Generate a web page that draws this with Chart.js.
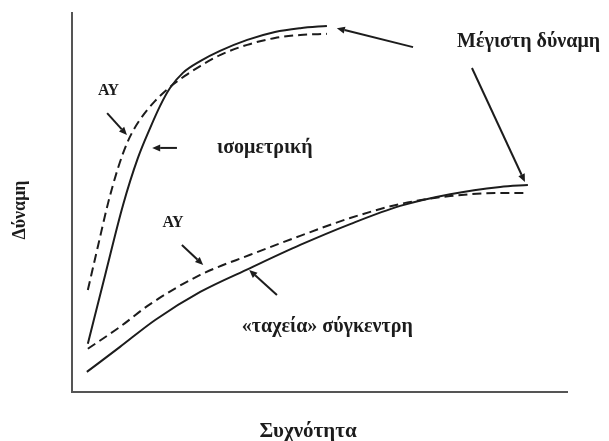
<!DOCTYPE html>
<html>
<head>
<meta charset="utf-8">
<script src="https://cdn.jsdelivr.net/npm/chart.js@4/dist/chart.umd.min.js"></script>
<style>
html,body{margin:0;padding:0;background:#fff;}
#wrap{width:609px;height:441px;position:relative;}
</style>
</head>
<body>
<div id="wrap"><canvas id="c" width="609" height="441"></canvas></div>
<script>
// Frequency (x) values and force (y) values (0-100 scale)
const isoSolidX = [3.2, 6.7, 10.3, 13.3, 15.8, 17.8, 19.8, 22.4, 25.9, 29.9, 35.4, 41.0, 46.1, 51.5];
const isoSolidY = [12.7, 30.9, 49.3, 61.7, 69.7, 75.5, 80.2, 84.2, 87.3, 90.0, 92.9, 95.0, 96.0, 96.6];
const isoDashX  = [3.2, 5.3, 7.3, 9.3, 11.3, 13.7, 16.8, 19.8, 22.8, 25.9, 29.9, 35.4, 41.0, 46.1, 51.5];
const isoDashY  = [26.9, 38.8, 49.9, 59.1, 66.2, 71.8, 76.8, 80.5, 83.4, 86.0, 88.9, 91.6, 93.4, 94.2, 94.5];
const conSolidX = [3.0, 9.7, 16.8, 25.9, 36.0, 46.1, 56.2, 66.3, 76.4, 86.5, 92.1];
const conSolidY = [5.3, 11.9, 19.0, 26.4, 32.7, 38.8, 44.3, 49.1, 52.2, 54.1, 54.6];
const conDashX  = [3.2, 9.7, 15.8, 25.9, 36.0, 46.1, 56.2, 66.3, 76.4, 86.5, 92.1];
const conDashY  = [11.4, 17.2, 23.2, 30.9, 36.2, 41.2, 45.9, 49.6, 51.7, 52.5, 52.5];

const xTitle = 'Συχνότητα';
const yTitle = 'Δύναμη';
const labelTexts = ['Μέγιστη δύναμη', 'ισομετρική', '«ταχεία» σύγκεντρη', 'ΑΥ', 'ΑΥ'];

const toPts = (xs, ys) => xs.map((x, i) => ({x, y: ys[i]}));

// annotation placement (data coordinates)
const labels = [
  {text: labelTexts[0], x: 77.8, y: 92.3, size: 20, align: 'left'},
  {text: labelTexts[1], x: 29.3, y: 64.4, size: 20, align: 'left'},
  {text: labelTexts[2], x: 34.3, y: 17.2, size: 20, align: 'left'},
  {text: labelTexts[3], x: 7.4, y: 79.4, size: 16, align: 'center'},
  {text: labelTexts[4], x: 20.4, y: 44.7, size: 16, align: 'center'}
];
const arrows = [
  [7.1, 73.6, 11.1, 67.8],
  [21.2, 64.4, 16.2, 64.4],
  [22.2, 38.8, 26.5, 33.5],
  [41.4, 25.6, 35.8, 32.2],
  [68.9, 91.0, 53.5, 96.0],
  [80.8, 85.5, 91.5, 55.4]
];

const ink = '#1c1c1c';
const annot = {
  id: 'annot',
  afterDatasetsDraw(chart) {
    const ctx = chart.ctx, xs = chart.scales.x, ys = chart.scales.y, ca = chart.chartArea;
    ctx.save();
    ctx.fillStyle = ink; ctx.strokeStyle = ink;
    ctx.textBaseline = 'middle';
    labels.forEach(l => {
      ctx.font = 'bold ' + l.size + 'px "Liberation Serif", "DejaVu Serif", serif';
      ctx.textAlign = l.align;
      ctx.fillText(l.text, xs.getPixelForValue(l.x), ys.getPixelForValue(l.y));
    });
    ctx.lineWidth = 2;
    arrows.forEach(a => {
      const x1 = xs.getPixelForValue(a[0]), y1 = ys.getPixelForValue(a[1]);
      const x2 = xs.getPixelForValue(a[2]), y2 = ys.getPixelForValue(a[3]);
      const ang = Math.atan2(y2 - y1, x2 - x1);
      const hl = 8, hw = 3.5;
      const bx = x2 - hl * Math.cos(ang), by = y2 - hl * Math.sin(ang);
      ctx.beginPath(); ctx.moveTo(x1, y1); ctx.lineTo(bx, by); ctx.stroke();
      ctx.beginPath();
      ctx.moveTo(x2, y2);
      ctx.lineTo(bx + hw * Math.sin(ang), by - hw * Math.cos(ang));
      ctx.lineTo(bx - hw * Math.sin(ang), by + hw * Math.cos(ang));
      ctx.closePath(); ctx.fill();
    });
    // axis titles
    ctx.textAlign = 'center';
    ctx.font = 'bold 21px "Liberation Serif", "DejaVu Serif", serif';
    ctx.fillText(xTitle, 308, 432);
    ctx.font = 'bold 18px "Liberation Serif", "DejaVu Serif", serif';
    ctx.translate(20, 210);
    ctx.rotate(-Math.PI / 2);
    ctx.fillText(yTitle, 0, 0);
    ctx.restore();
  }
};

const lineStyle = {borderColor: ink, borderWidth: 2, pointRadius: 0, fill: false, cubicInterpolationMode: 'monotone'};

new Chart(document.getElementById('c'), {
  type: 'line',
  data: {
    datasets: [
      Object.assign({label: 'ισομετρική', data: toPts(isoSolidX, isoSolidY)}, lineStyle),
      Object.assign({label: 'ισομετρική ΑΥ', data: toPts(isoDashX, isoDashY), borderDash: [9, 5]}, lineStyle),
      Object.assign({label: '«ταχεία» σύγκεντρη', data: toPts(conSolidX, conSolidY)}, lineStyle),
      Object.assign({label: '«ταχεία» σύγκεντρη ΑΥ', data: toPts(conDashX, conDashY), borderDash: [9, 5]}, lineStyle)
    ]
  },
  options: {
    responsive: false,
    animation: false,
    layout: {padding: {left: 72, top: 13, right: 42, bottom: 49}},
    plugins: {legend: {display: false}, tooltip: {enabled: false}},
    scales: {
      x: {type: 'linear', min: 0, max: 100,
          ticks: {display: false}, grid: {display: false, drawTicks: false},
          border: {display: true, color: '#555', width: 2}},
      y: {type: 'linear', min: 0, max: 100,
          ticks: {display: false}, grid: {display: false, drawTicks: false},
          border: {display: true, color: '#555', width: 2}}
    }
  },
  plugins: [annot]
});
</script>
</body>
</html>
